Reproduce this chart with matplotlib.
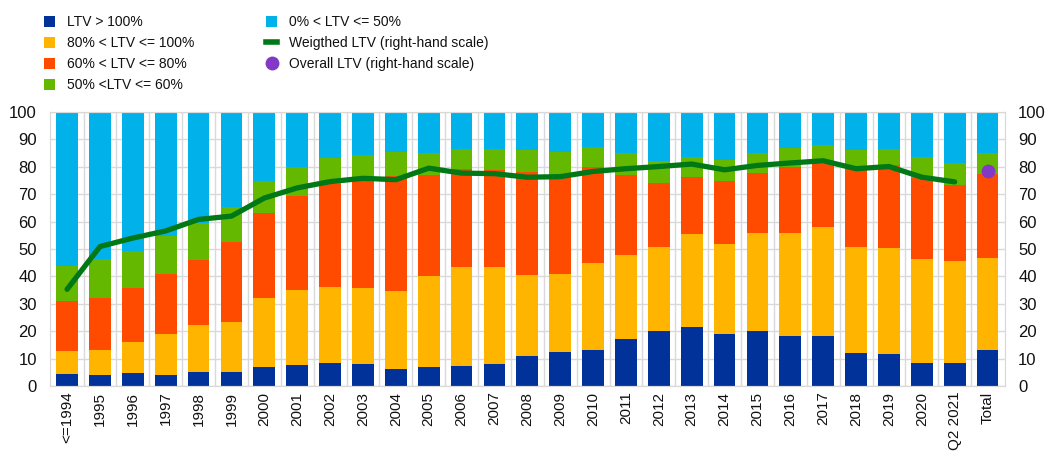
import numpy as np
import matplotlib.pyplot as plt

plt.rcParams['font.family'] = ['Liberation Sans', 'DejaVu Sans']

years = ["<=1994", "1995", "1996", "1997", "1998", "1999", "2000", "2001", "2002",
         "2003", "2004", "2005", "2006", "2007", "2008", "2009", "2010", "2011",
         "2012", "2013", "2014", "2015", "2016", "2017", "2018", "2019", "2020",
         "Q2 2021", "Total"]

# shares of new loans by LTV bucket (%)
ltv_over_100 = [4.4, 4.1, 4.9, 4.0, 5.2, 5.2, 7.1, 7.6, 8.3, 7.9, 6.3, 7.1, 7.4, 8.2,
                11.0, 12.5, 13.3, 17.3, 19.9, 21.7, 18.8, 20.1, 18.4, 18.4, 12.2,
                11.7, 8.4, 8.4, 13.0]
ltv_80_100 = [8.5, 9.1, 11.2, 15.0, 17.1, 18.2, 25.1, 27.6, 28.0, 28.0, 28.3, 33.1,
              36.2, 35.4, 29.6, 28.4, 31.6, 30.6, 31.0, 33.8, 33.1, 35.8, 37.5, 39.8,
              38.7, 38.5, 38.0, 37.3, 33.8]
ltv_60_80 = [18.0, 18.8, 19.7, 21.8, 23.6, 29.0, 31.1, 34.3, 37.5, 39.0, 41.9, 36.7,
             35.6, 35.3, 37.5, 35.0, 35.0, 29.0, 23.2, 20.6, 22.9, 21.8, 24.2, 23.0,
             28.4, 30.3, 29.5, 27.7, 30.4]
ltv_50_60 = [12.9, 14.3, 13.4, 14.0, 13.5, 13.1, 11.6, 10.3, 9.5, 9.5, 8.8, 8.1, 7.4,
             7.6, 7.9, 9.5, 7.3, 8.1, 8.1, 7.5, 7.8, 7.3, 6.6, 6.7, 6.7, 6.0, 7.5,
             8.0, 7.8]
ltv_0_50 = [56.2, 53.7, 50.8, 45.2, 40.6, 34.5, 25.1, 20.2, 16.7, 15.6, 14.7, 15.0,
            13.4, 13.5, 14.0, 14.6, 12.8, 15.0, 17.8, 16.4, 17.4, 15.0, 13.3, 12.1,
            14.0, 13.5, 16.6, 18.6, 15.0]

weighted_ltv = [35.3, 50.9, 54.0, 56.6, 60.8, 62.0, 68.6, 72.3, 74.6, 75.8, 75.3,
                79.5, 77.7, 77.5, 76.2, 76.4, 78.3, 79.3, 80.1, 81.0, 78.9, 80.5,
                81.4, 82.2, 79.3, 80.1, 76.2, 74.5]
overall_ltv = 78.4

series = [
    (ltv_over_100, "#003299", "LTV > 100%"),
    (ltv_80_100, "#FFB400", "80% < LTV <= 100%"),
    (ltv_60_80, "#FF4B00", "60% < LTV <= 80%"),
    (ltv_50_60, "#65B800", "50% <LTV <= 60%"),
    (ltv_0_50, "#00B1EA", "0% < LTV <= 50%"),
]

fig = plt.figure(figsize=(10.45, 4.53), dpi=100)
ax = fig.add_axes([50 / 1045, 1 - 386 / 453, 955 / 1045, 274 / 453])

x = np.arange(len(years))
bottom = np.zeros(len(years))
handles = {}
for vals, col, lab in series:
    vals = np.array(vals)
    handles[lab] = ax.bar(x, vals, 0.66, bottom=bottom, color=col, label=lab, zorder=2)
    bottom += vals

ax2 = ax.twinx()
line, = ax2.plot(x[:len(weighted_ltv)], weighted_ltv, color="#007816", lw=3.8,
                 solid_capstyle="round", zorder=3)
dot = ax2.scatter([x[-1]], [overall_ltv], s=80, color="#8139C6", zorder=4)

for a in (ax, ax2):
    a.set_ylim(0, 100)
    a.set_yticks(np.arange(0, 101, 10))
    a.tick_params(axis="y", length=0, labelsize=12, colors="#111111", pad=9.5)
    for s in a.spines.values():
        s.set_color("#d9d9d9")
ax.set_xlim(-0.52, len(years) - 0.47)

# grid between bars and at every 10 points
ax.set_xticks(x)
ax.set_xticklabels(years, rotation=90, fontsize=11, color="#111111")
ax.tick_params(axis="x", length=0, pad=4)
ax.set_xticks(x[:-1] + 0.5, minor=True)
ax.tick_params(axis="x", which="minor", length=0)
ax.grid(axis="x", which="minor", color="#d9d9d9", lw=1, zorder=0)
ax.grid(axis="y", color="#d9d9d9", lw=1, zorder=0)
ax.set_axisbelow(True)

# legend: bars in the first column, then the two right-hand series
col1 = [handles[s[2]] for s in series[:4]]
col2 = [handles[series[4][2]],
        plt.Line2D([], [], color="#007816", lw=4),
        plt.Line2D([], [], ls="", marker="o", ms=9, color="#8139C6")]
labels1 = [s[2] for s in series[:4]]
labels2 = [series[4][2], "Weigthed LTV (right-hand scale)", "Overall LTV (right-hand scale)"]
leg_h = col1 + col2 + [plt.Line2D([], [], alpha=0)]
leg_l = labels1 + labels2 + [""]
fig.legend(leg_h, leg_l, ncol=2, loc="upper left", bbox_to_anchor=(31 / 1045, 1 - 3 / 453),
           frameon=False, fontsize=10, handlelength=0.8, handleheight=0.8,
           columnspacing=5.2, labelspacing=0.5, handletextpad=0.86,
           labelcolor="#111111")

fig.savefig("out.png", dpi=100)
